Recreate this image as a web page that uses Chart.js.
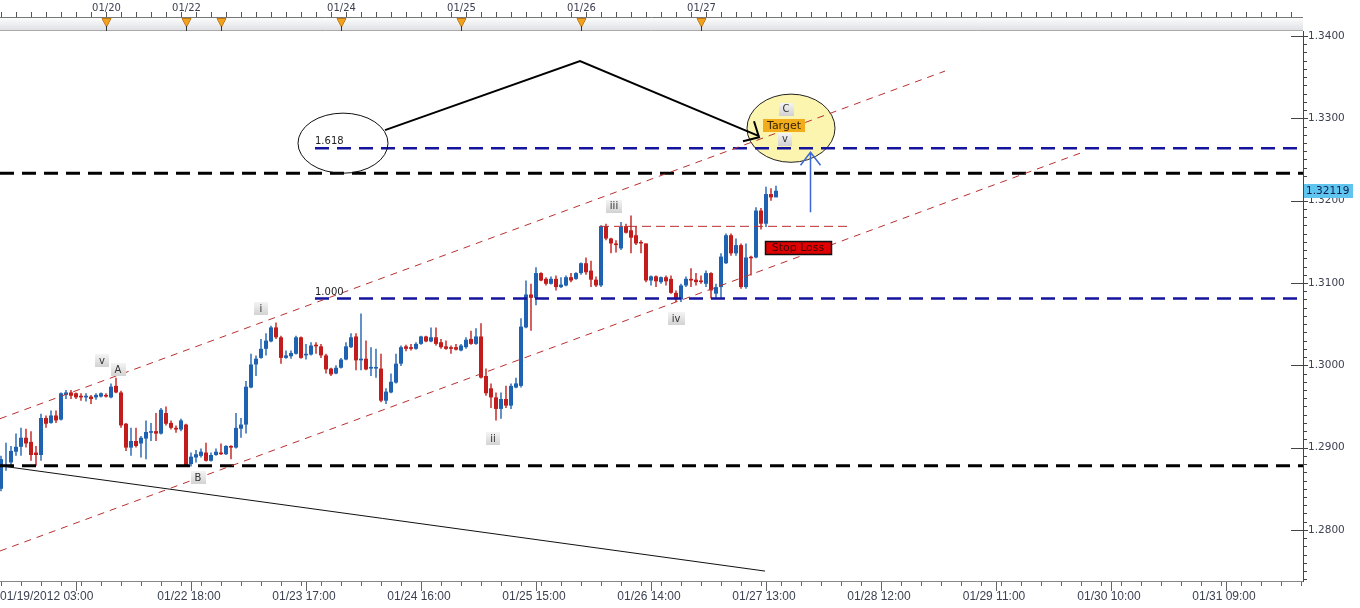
<!DOCTYPE html>
<html><head><meta charset="utf-8">
<script src="https://cdn.jsdelivr.net/npm/chart.js@4.4.0/dist/chart.umd.min.js"></script>
<style>html,body{margin:0;padding:0;background:#fff}canvas{display:block}</style>
</head><body>
<canvas id="c" width="1360" height="608"></canvas>
<script>
// ---- hourly EUR/USD candles (bar index 0 = 01/19/2012 03:00) ----
const opens = [1.2850,1.2877,1.2882,1.2895,1.2901,1.2912,1.2907,1.2894,1.2891,1.2936,1.2930,1.2939,1.2934,1.2964,1.2967,1.2966,1.2963,1.2961,1.2962,1.2961,1.2962,1.2964,1.2961,1.2975,1.2967,1.2929,1.2900,1.2908,1.2905,1.2911,1.2918,1.2920,1.2917,1.2942,1.2930,1.2924,1.2922,1.2928,1.2880,1.2888,1.2890,1.2894,1.2884,1.2891,1.2894,1.2892,1.2902,1.2900,1.2923,1.2928,1.2973,1.3001,1.3009,1.3020,1.3029,1.3046,1.3034,1.3009,1.3011,1.3014,1.3034,1.3012,1.3013,1.3025,1.3023,1.3012,1.2996,1.2990,1.2997,1.3007,1.3022,1.3035,1.3006,1.3008,1.2996,1.2996,1.2996,1.2957,1.2967,1.2979,1.3002,1.3023,1.3022,1.3020,1.3026,1.3035,1.3029,1.3034,1.3028,1.3023,1.3022,1.3022,1.3018,1.3022,1.3032,1.3026,1.3035,1.2987,1.2972,1.2961,1.2947,1.2959,1.2951,1.2973,1.2975,1.3046,1.3086,1.3082,1.3112,1.3105,1.3099,1.3105,1.3095,1.3097,1.3107,1.3105,1.3112,1.3124,1.3115,1.3104,1.3097,1.3169,1.3154,1.3148,1.3142,1.3169,1.3164,1.3158,1.3149,1.3148,1.3103,1.3108,1.3101,1.3107,1.3105,1.3088,1.3080,1.3097,1.3105,1.3104,1.3103,1.3099,1.3112,1.3087,1.3095,1.3124,1.3158,1.3136,1.3146,1.3095,1.3131,1.3131,1.3188,1.3172,1.3208,1.3204];
const highs = [1.2890,1.2906,1.2902,1.2917,1.2924,1.2923,1.2920,1.2902,1.2941,1.2939,1.2945,1.2945,1.2967,1.2970,1.2970,1.2967,1.2966,1.2966,1.2964,1.2966,1.2967,1.2966,1.2978,1.2985,1.2969,1.2930,1.2924,1.2924,1.2914,1.2933,1.2930,1.2942,1.2948,1.2950,1.2933,1.2927,1.2935,1.2929,1.2894,1.2897,1.2899,1.2906,1.2894,1.2899,1.2905,1.2903,1.2903,1.2942,1.2936,1.2981,1.3014,1.3012,1.3032,1.3039,1.3048,1.3052,1.3036,1.3018,1.3018,1.3036,1.3035,1.3026,1.3028,1.3028,1.3026,1.3014,1.2997,1.3000,1.3009,1.3028,1.3039,1.3039,1.3063,1.3030,1.3022,1.3020,1.3014,1.2972,1.2990,1.3014,1.3024,1.3025,1.3026,1.3028,1.3036,1.3036,1.3046,1.3046,1.3032,1.3030,1.3024,1.3026,1.3026,1.3034,1.3042,1.3045,1.3051,1.2996,1.2978,1.2967,1.2967,1.2975,1.2978,1.2985,1.3057,1.3103,1.3099,1.3119,1.3113,1.3107,1.3108,1.3109,1.3107,1.3109,1.3112,1.3113,1.3125,1.3131,1.3127,1.3108,1.3170,1.3172,1.3155,1.3152,1.3174,1.3172,1.3182,1.3169,1.3152,1.3148,1.3109,1.3109,1.3108,1.3109,1.3109,1.3091,1.3099,1.3108,1.3118,1.3112,1.3109,1.3115,1.3113,1.3099,1.3136,1.3160,1.3160,1.3154,1.3148,1.3148,1.3133,1.3192,1.3191,1.3217,1.3215,1.3218];
const lows = [1.2847,1.2872,1.2878,1.2890,1.2890,1.2900,1.2884,1.2878,1.2884,1.2924,1.2929,1.2930,1.2933,1.2959,1.2959,1.2959,1.2957,1.2956,1.2953,1.2958,1.2961,1.2961,1.2960,1.2966,1.2924,1.2896,1.2890,1.2900,1.2888,1.2886,1.2908,1.2908,1.2916,1.2927,1.2922,1.2918,1.2920,1.2877,1.2877,1.2882,1.2888,1.2883,1.2883,1.2890,1.2891,1.2891,1.2886,1.2899,1.2912,1.2917,1.2972,1.2987,1.3008,1.3012,1.3028,1.3032,1.3002,1.3008,1.3008,1.3013,1.3008,1.3007,1.3012,1.3014,1.3009,1.2990,1.2987,1.2989,1.2996,1.3006,1.3021,1.2994,1.2994,1.2994,1.2987,1.2985,1.2955,1.2953,1.2966,1.2978,1.2999,1.3017,1.3018,1.3019,1.3025,1.3028,1.3028,1.3024,1.3020,1.3019,1.3014,1.3018,1.3017,1.3020,1.3025,1.3025,1.2984,1.2963,1.2948,1.2933,1.2935,1.2948,1.2947,1.2972,1.2973,1.3045,1.3042,1.3073,1.3102,1.3097,1.3098,1.3091,1.3094,1.3096,1.3101,1.3104,1.3110,1.3110,1.3095,1.3095,1.3095,1.3152,1.3136,1.3137,1.3140,1.3160,1.3136,1.3146,1.3136,1.3101,1.3097,1.3095,1.3099,1.3097,1.3087,1.3077,1.3077,1.3095,1.3095,1.3097,1.3099,1.3095,1.3081,1.3082,1.3081,1.3123,1.3133,1.3133,1.3093,1.3093,1.3109,1.3130,1.3165,1.3168,1.3200,1.3204];
const closes = [1.2886,1.2878,1.2896,1.2901,1.2912,1.2905,1.2891,1.2891,1.2936,1.2929,1.2939,1.2933,1.2966,1.2967,1.2963,1.2961,1.2961,1.2963,1.2959,1.2964,1.2966,1.2962,1.2974,1.2967,1.2927,1.2900,1.2908,1.2902,1.2912,1.2919,1.2920,1.2917,1.2946,1.2929,1.2924,1.2922,1.2933,1.2878,1.2889,1.2892,1.2895,1.2884,1.2891,1.2895,1.2892,1.2902,1.2900,1.2924,1.2928,1.2974,1.3001,1.3008,1.3020,1.3030,1.3046,1.3034,1.3009,1.3012,1.3015,1.3034,1.3009,1.3014,1.3024,1.3023,1.3012,1.2995,1.2989,1.2997,1.3007,1.3023,1.3034,1.3006,1.3008,1.2995,1.2998,1.2998,1.2957,1.2968,1.2980,1.3002,1.3022,1.3020,1.3020,1.3026,1.3035,1.3029,1.3034,1.3026,1.3022,1.3020,1.3020,1.3019,1.3024,1.3031,1.3026,1.3035,1.2985,1.2966,1.2961,1.2947,1.2959,1.2951,1.2975,1.2978,1.3047,1.3086,1.3082,1.3112,1.3103,1.3099,1.3105,1.3095,1.3098,1.3107,1.3103,1.3112,1.3124,1.3113,1.3104,1.3097,1.3169,1.3154,1.3148,1.3146,1.3168,1.3161,1.3155,1.3148,1.3148,1.3103,1.3108,1.3102,1.3107,1.3102,1.3088,1.3080,1.3097,1.3105,1.3103,1.3101,1.3101,1.3112,1.3091,1.3095,1.3132,1.3158,1.3136,1.3146,1.3095,1.3131,1.3130,1.3188,1.3172,1.3208,1.3204,1.3212];
const lastPrice = 1.32119;

// ---- axis labels ----
const priceTicks = [1.28, 1.29, 1.30, 1.31, 1.32, 1.33, 1.34];
const bottomTickIdx = [0, 38, 61, 84, 107, 130, 153, 176, 199, 222, 245];
const bottomTickLabels = ['01/19/2012 03:00','01/22 18:00','01/23 17:00','01/24 16:00','01/25 15:00','01/26 14:00','01/27 13:00','01/28 12:00','01/29 11:00','01/30 10:00','01/31 09:00'];
const bottomMajorIdx = [15, 38, 61, 84, 107, 130, 153, 176, 199, 222, 245];
const topTickIdx = [21, 37, 44, 68, 92, 116, 140];
const topTickLabels = ['01/20','01/22','','01/24','01/25','01/26','01/27'];

// ---- drawn analysis objects (bar index, price) ----
const hLevels = [1.28779, 1.32333];             // black dashed
const fibLevels = [1.30811, 1.32637];           // blue dashed
const fibNames = ['1.000', '1.618'];
const fibStartIdx = 62.8;
const upperChX = [-0.2, 188.8], upperChY = [1.29351, 1.33574];
const lowerChX = [-0.2, 215.8], lowerChY = [1.27744, 1.32576];
const stopLineX = [119.8, 169.8], stopLineY = [1.31688, 1.31688];
const trendX = [-0.2, 152.8], trendY = [1.28779, 1.27500];
const zigzagX = [76.8, 115.8, 151.6], zigzagY = [1.32856, 1.33696, 1.32783];
const waveText = ['v','A','i','B','ii','iii','iv','C','v'];
const waveIdx = [20.2, 23.4, 52, 39.4, 98.4, 122.6, 135, 157, 156.8];
const wavePrice = [1.30057, 1.29947, 1.30690, 1.28633, 1.29107, 1.31931, 1.30568, 1.33111, 1.32746];
const targetAt = [156.6, 1.32917];
const stopAt = [159.4, 1.31432];
const blueArrowIdx = 161.8, blueArrowY = [1.31858, 1.32588];

const XMIN = -0.2, XMAX = 260.4;
const BLUE = '#1f62b2', RED = '#c21c1c';
const candleColors = closes.map((c, i) => c >= opens[i] ? BLUE : RED);

function seg(xs, ys){ return xs.map((x, k) => ({x: x, y: ys[k]})); }
function lineDs(data, color, width, dash){
  return {type:'line', data:data, borderColor:color, borderWidth:width, borderDash:dash||[],
    pointRadius:0, tension:0, fill:false, order:0};
}

const datasets = [
  {type:'bar', label:'wick', data: opens.map((o,i)=>({x:i, y:[lows[i], highs[i]]})),
   backgroundColor: candleColors, barThickness:1.4, grouped:false, order:2, inflateAmount:0, borderWidth:0},
  {type:'bar', label:'body', data: opens.map((o,i)=>({x:i, y:[o, closes[i]]})),
   backgroundColor: candleColors, barThickness:4, grouped:false, order:1, inflateAmount:0, borderWidth:0, minBarLength:1.5},
  lineDs(seg(upperChX, upperChY), '#b83030', 1, [7,6]),
  lineDs(seg(lowerChX, lowerChY), '#b83030', 1, [7,6]),
  lineDs(seg(stopLineX, stopLineY), '#b83030', 1, [9,5]),
  lineDs(seg(trendX, trendY), '#111', 1, []),
  lineDs(seg([XMIN, XMAX], [hLevels[0], hLevels[0]]), '#000', 3, [14,8]),
  lineDs(seg([XMIN, XMAX], [hLevels[1], hLevels[1]]), '#000', 3, [14,8]),
  lineDs(seg([fibStartIdx, XMAX], [fibLevels[0], fibLevels[0]]), '#14149c', 2.5, [14,8]),
  lineDs(seg([fibStartIdx, XMAX], [fibLevels[1], fibLevels[1]]), '#14149c', 2.5, [14,8]),
  lineDs(seg(zigzagX, zigzagY), '#000', 2, []),
];

function ellipse(ctx, chart, ci, cp, ri, rp){
  const xs = chart.scales.x, ys = chart.scales.y;
  const cx = xs.getPixelForValue(ci), cy = ys.getPixelForValue(cp);
  const rx = Math.abs(xs.getPixelForValue(ci + ri) - cx), ry = Math.abs(ys.getPixelForValue(cp + rp) - cy);
  ctx.beginPath(); ctx.ellipse(cx, cy, rx, ry, 0, 0, Math.PI * 2);
}
function tag(ctx, text, x, y, bg, fg, font){
  ctx.font = font || '10px "DejaVu Sans"';
  const w = Math.max(14, ctx.measureText(text).width + 8), h = 13;
  const g = ctx.createLinearGradient(0, y - h/2, 0, y + h/2);
  if (bg) { g.addColorStop(0, bg); g.addColorStop(1, bg); }
  else { g.addColorStop(0, '#f4f4f4'); g.addColorStop(1, '#d2d2d2'); }
  ctx.fillStyle = g; ctx.fillRect(Math.round(x - w/2), Math.round(y - h/2), Math.round(w), h);
  ctx.fillStyle = fg || '#333'; ctx.textAlign = 'center'; ctx.textBaseline = 'middle';
  ctx.fillText(text, x, y + 0.5);
}

const overlay = {
  id: 'overlay',
  beforeDraw(chart){
    const c = chart.ctx; c.save(); c.fillStyle = '#fff'; c.fillRect(0, 0, chart.width, chart.height); c.restore();
  },
  beforeDatasetsDraw(chart){
    const c = chart.ctx; c.save();
    ellipse(c, chart, 158, 1.32880, 8.8, 0.00414);
    c.fillStyle = '#fbf5b0'; c.fill(); c.lineWidth = 1; c.strokeStyle = '#222'; c.stroke();
    c.restore();
  },
  afterDatasetsDraw(chart){
    const c = chart.ctx, xs = chart.scales.x, ys = chart.scales.y; c.save();
    ellipse(c, chart, 68.4, 1.32698, 9, 0.00365);
    c.lineWidth = 1; c.strokeStyle = '#111'; c.stroke();
    c.font = '10px "DejaVu Sans"'; c.fillStyle = '#222'; c.textAlign = 'left'; c.textBaseline = 'alphabetic';
    fibLevels.forEach((p, k) => c.fillText(fibNames[k], xs.getPixelForValue(fibStartIdx), ys.getPixelForValue(p) - 4));
    const ex = xs.getPixelForValue(zigzagX[2]), ey = ys.getPixelForValue(zigzagY[2]);
    c.strokeStyle = '#000'; c.lineWidth = 2; c.beginPath();
    c.moveTo(ex - 5, ey - 15); c.lineTo(ex, ey + 1); c.lineTo(ex - 16, ey + 5); c.stroke();
    const bx = Math.round(xs.getPixelForValue(blueArrowIdx)) + 0.5;
    const by0 = ys.getPixelForValue(blueArrowY[0]), by1 = ys.getPixelForValue(blueArrowY[1]);
    c.strokeStyle = '#3d66d6'; c.lineWidth = 1.5; c.beginPath();
    c.moveTo(bx, by0); c.lineTo(bx, by1); c.moveTo(bx - 10, by1 + 13); c.lineTo(bx, by1); c.lineTo(bx + 10, by1 + 13); c.stroke();
    waveText.forEach((t, k) => tag(c, t, xs.getPixelForValue(waveIdx[k]), ys.getPixelForValue(wavePrice[k])));
    tag(c, 'Target', xs.getPixelForValue(targetAt[0]), ys.getPixelForValue(targetAt[1]), '#f1ad1c', '#3a2500', '11px "DejaVu Sans"');
    const sx = xs.getPixelForValue(stopAt[0]), sy = ys.getPixelForValue(stopAt[1]);
    c.fillStyle = '#e00000'; c.fillRect(Math.round(sx - 33) + 0.5, Math.round(sy - 6) + 0.5, 66, 13);
    c.strokeStyle = '#111'; c.lineWidth = 1.5; c.strokeRect(Math.round(sx - 33) + 0.5, Math.round(sy - 6) + 0.5, 66, 13);
    c.fillStyle = '#3a0000'; c.font = '11px "DejaVu Sans"'; c.textAlign = 'center'; c.textBaseline = 'middle';
    c.fillText('Stop Loss', sx, sy + 1);
    c.restore();
  },
  afterDraw(chart){
    const c = chart.ctx, xs = chart.scales.x, ys = chart.scales.y, a = chart.chartArea; c.save();
    // top date strip
    c.fillStyle = '#fff'; c.fillRect(0, 0, a.right, a.top);
    const g = c.createLinearGradient(0, 18, 0, 30); g.addColorStop(0, '#fcfcfc'); g.addColorStop(1, '#dfe1e5');
    c.fillStyle = g; c.fillRect(0, 18, a.right, 12);
    c.strokeStyle = '#777'; c.lineWidth = 1;
    c.beginPath(); c.moveTo(0, 17.5); c.lineTo(a.right, 17.5); c.stroke();
    c.strokeStyle = '#aaa'; c.beginPath(); c.moveTo(0, 30.5); c.lineTo(a.right, 30.5); c.stroke();
    c.strokeStyle = '#555'; c.beginPath();
    for (let i = 0; i <= XMAX; i += 3) { const x = Math.round(xs.getPixelForValue(i)) + 0.5; c.moveTo(x, 12); c.lineTo(x, 17); }
    c.stroke();
    c.font = '10px "DejaVu Sans"'; c.textAlign = 'center'; c.textBaseline = 'middle';
    topTickIdx.forEach((idx, k) => {
      const x = Math.round(xs.getPixelForValue(idx)) + 0.5;
      c.fillStyle = '#f3a21f'; c.strokeStyle = '#c27a10'; c.lineWidth = 1;
      c.beginPath(); c.moveTo(x - 4.5, 18.5); c.lineTo(x + 4.5, 18.5); c.lineTo(x, 27); c.closePath(); c.fill(); c.stroke();
      c.strokeStyle = '#333'; c.beginPath(); c.moveTo(x, 26); c.lineTo(x, 31); c.stroke();
      if (topTickLabels[k]) { c.fillStyle = '#3d4252'; c.fillText(topTickLabels[k], x, 8); }
    });
    // bottom time strip
    c.fillStyle = '#fff'; c.fillRect(0, a.bottom + 1, chart.width, chart.height - a.bottom);
    c.strokeStyle = '#888'; c.lineWidth = 1;
    c.beginPath(); c.moveTo(0, a.bottom + 0.5); c.lineTo(a.right, a.bottom + 0.5); c.stroke();
    c.strokeStyle = '#666'; c.beginPath();
    for (let i = 0; i <= XMAX; i += 4) { const x = Math.round(xs.getPixelForValue(i)) + 0.5; c.moveTo(x, a.bottom + 1); c.lineTo(x, a.bottom + 5); }
    bottomMajorIdx.forEach(idx => { const x = Math.round(xs.getPixelForValue(idx)) + 0.5; c.moveTo(x, a.bottom + 1); c.lineTo(x, a.bottom + 10); });
    c.stroke();
    c.font = '12px "Liberation Sans"'; c.fillStyle = '#3d4252'; c.textBaseline = 'middle';
    bottomTickIdx.forEach((idx, k) => {
      const x = xs.getPixelForValue(idx);
      if (k === 0) { c.textAlign = 'left'; c.fillText(bottomTickLabels[k], 0, 597); }
      else { c.textAlign = 'center'; c.fillText(bottomTickLabels[k], x - 2, 597); }
    });
    // right price axis ticks
    c.strokeStyle = '#444'; c.lineWidth = 1; c.beginPath();
    c.moveTo(a.right + 0.5, a.top); c.lineTo(a.right + 0.5, a.bottom + 1);
    for (let v = 1274; v <= 1340; v++) {
      const y = Math.round(ys.getPixelForValue(v / 1000)) + 0.5;
      if (v % 10 === 0) { c.moveTo(a.right - 12, y); c.lineTo(a.right + 5, y); }
      else { c.moveTo(a.right, y); c.lineTo(a.right + 4, y); }
    }
    c.stroke();
    const py = Math.round(ys.getPixelForValue(lastPrice));
    c.fillStyle = '#5fc5ee'; c.fillRect(a.right + 1, py - 7, 49, 14);
    c.fillStyle = '#0e1c4e'; c.font = '10.5px "DejaVu Sans"'; c.textAlign = 'left'; c.textBaseline = 'middle';
    c.fillText(lastPrice.toFixed(5), a.right + 3, py + 0.5);
    c.restore();
  }
};

new Chart(document.getElementById('c'), {
  type: 'bar',
  data: { datasets: datasets },
  options: {
    responsive: false, maintainAspectRatio: false, animation: false, devicePixelRatio: 1,
    layout: { padding: { top: 31, bottom: 27, left: 0, right: 0 } },
    plugins: { legend: { display: false }, tooltip: { enabled: false } },
    scales: {
      x: { type: 'linear', display: false, min: XMIN, max: XMAX, offset: false },
      y: { type: 'linear', position: 'right', min: 1.273796, max: 1.340608,
           afterBuildTicks: s => { s.ticks = priceTicks.map(v => ({ value: v })); },
           afterFit: s => { s.width = 57; },
           grid: { display: false, drawTicks: false },
           border: { display: true, color: '#444' },
           ticks: { padding: 5, color: '#3d4252', font: { family: 'DejaVu Sans', size: 10.5 },
                    callback: v => Number(v).toFixed(4) } }
    }
  },
  plugins: [overlay]
});
</script>
</body></html>
